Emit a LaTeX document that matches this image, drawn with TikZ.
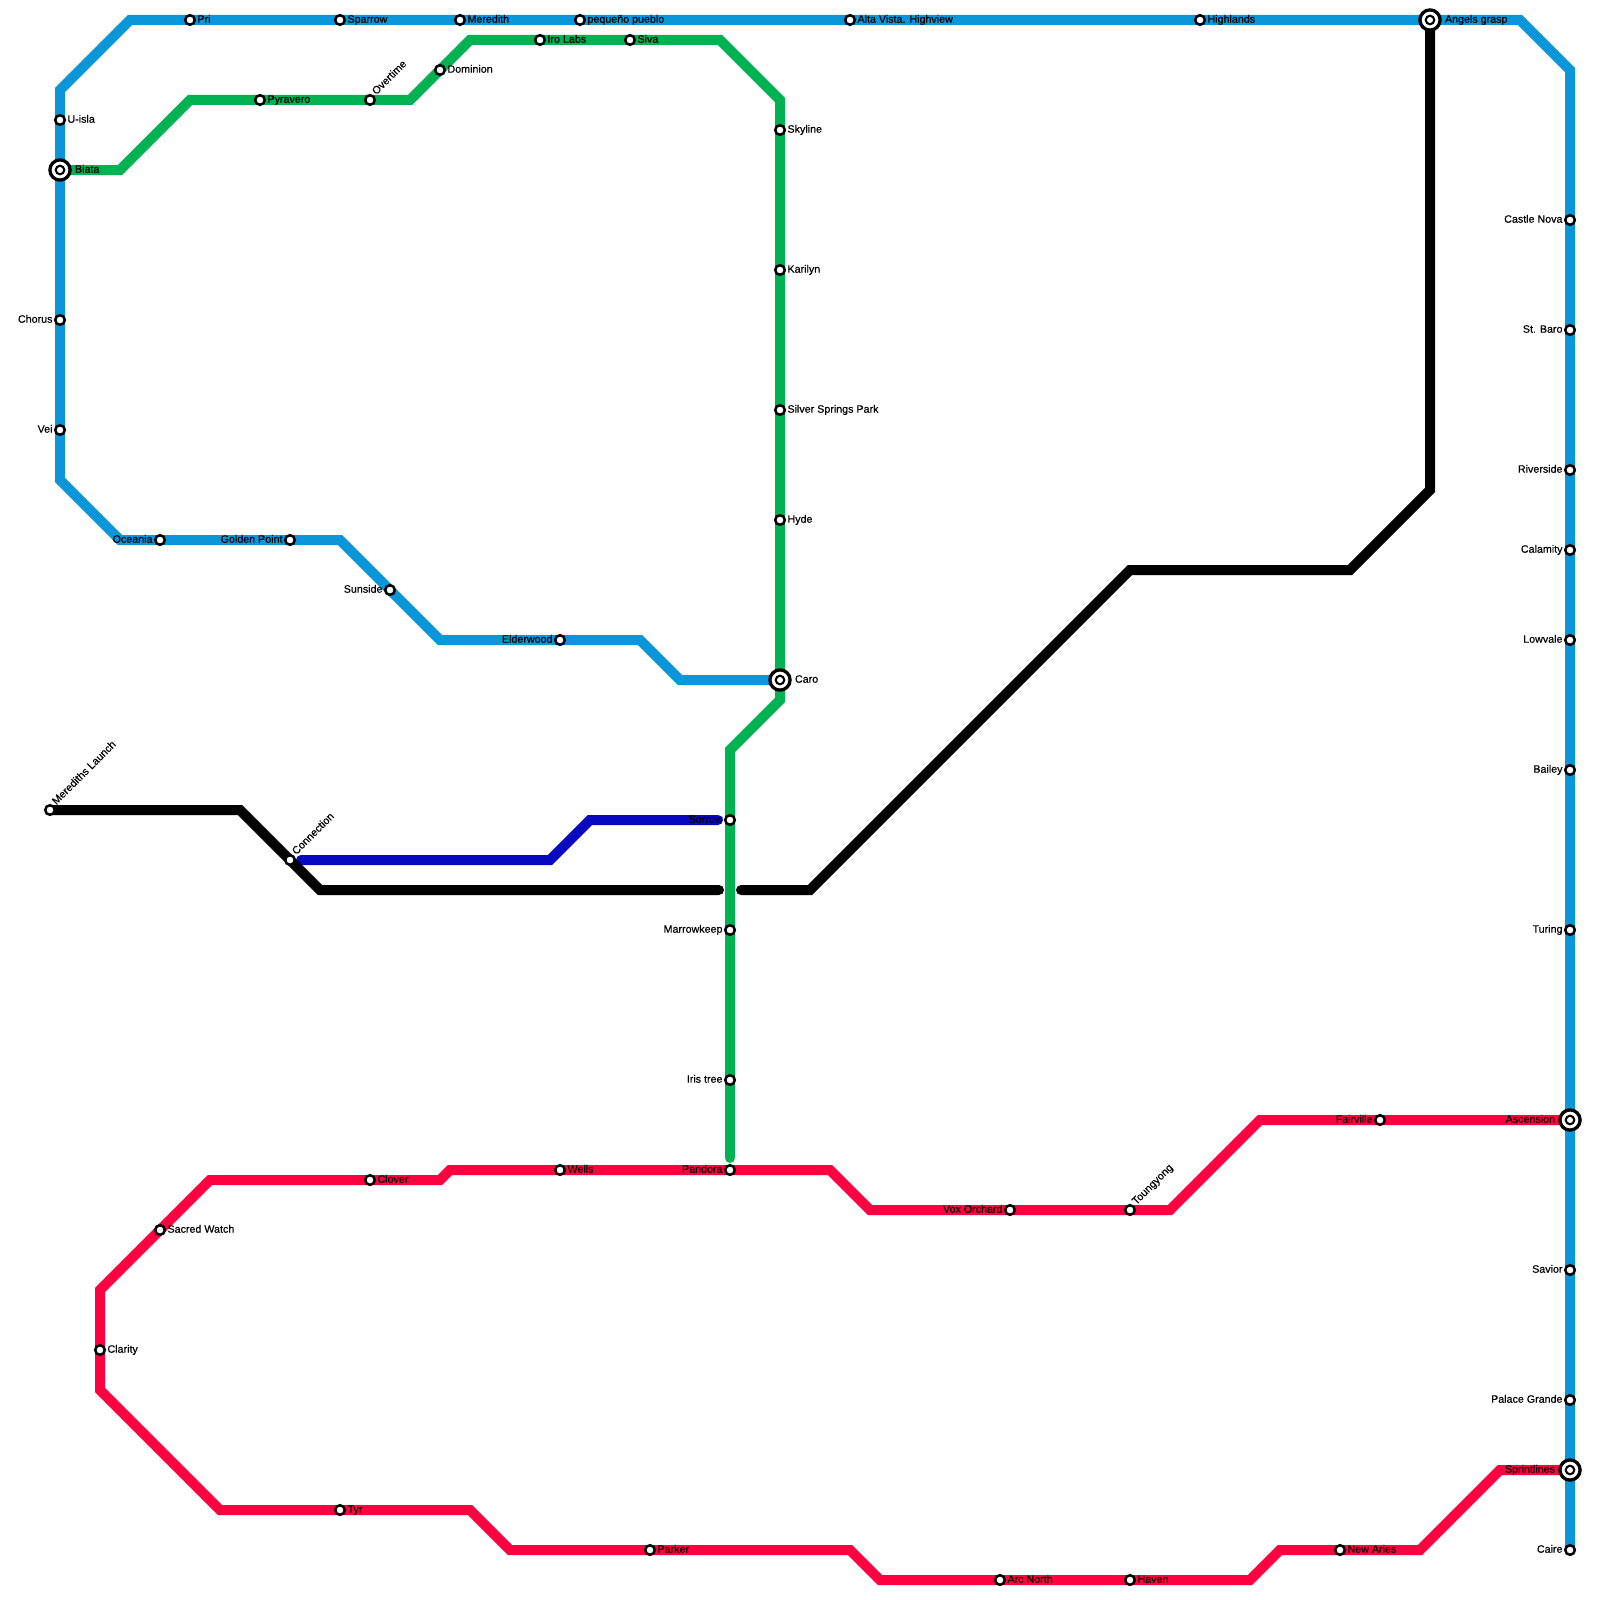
\documentclass[tikz,border=0pt]{standalone}
\usepackage{fontspec}
\setmainfont[FakeBold=0.4]{Liberation Sans}
\usepackage{xcolor}
\definecolor{ringblue}{HTML}{0A96D9}
\definecolor{leafgreen}{HTML}{00B251}
\definecolor{hotred}{HTML}{FF0040}
\definecolor{deepblue}{HTML}{0808C0}
\usetikzlibrary{backgrounds}
\tikzset{
  tag/.style  ={inner sep=0pt, outer sep=0pt, text=black, font=\fontsize{10.7}{12}\selectfont,
                text height=7.6pt, text depth=2.2pt},
  stn/.style  ={circle, draw=black, fill=white, line width=2.5pt, minimum size=9.6pt,
                inner sep=0pt, outer sep=0pt},
  hub/.style  ={stn, line width=3.3pt, minimum size=20.2pt,
                path picture={\fill[black] (path picture bounding box.center) circle (5.4pt);
                              \fill[white] (path picture bounding box.center) circle (3pt);}},
  tr/.style   ={label={[tag, label distance=2.7pt]right:#1}},
  tl/.style   ={label={[tag, label distance=2.7pt]left:#1}},
  td/.style   ={label={[tag, rotate=45, anchor=west, label distance=2.2pt, xshift=1.5pt]45:#1}},
  hr/.style   ={label={[tag, label distance=4.9pt]right:#1}},
  hl/.style   ={label={[tag, label distance=4.9pt]left:#1}},
  track/.style={line width=10pt, miter limit=10},
  stub/.style ={track, line cap=round},
}
\begin{document}
\begin{tikzpicture}[x=1pt, y=-1pt]
  \useasboundingbox (0,0) rectangle (1600,1600);
  % blue line
  \node[stn, tr=Pri] (pri) at (190,20) {};
  \node[stn, tr=Sparrow] (sparrow) at (340,20) {};
  \node[stn, tr=Meredith] (meredith) at (460,20) {};
  \node[stn, tr=pequeño pueblo] (pueblo) at (580,20) {};
  \node[stn, tr={Alta Vista. Highview}] (altavista) at (850,20) {};
  \node[stn, tr=Highlands] (highlands) at (1200,20) {};
  \node[hub, hr={Angels grasp}] (angels) at (1430,20) {};
  \node[stn, tr=U-isla] (uisla) at (60,120) {};
  \node[hub, hr=Biata] (biata) at (60,170) {};
  \node[stn, tl=Chorus] (chorus) at (60,320) {};
  \node[stn, tl=Vei] (vei) at (60,430) {};
  \node[stn, tl=Oceania] (oceania) at (160,540) {};
  \node[stn, tl={Golden Point}] (golden) at (290,540) {};
  \node[stn, tl=Sunside] (sunside) at (390,590) {};
  \node[stn, tl=Elderwood] (elderwood) at (560,640) {};
  \node[hub, hr=Caro] (caro) at (780,680) {};
  \node[stn, tl={Castle Nova}] (castle) at (1570,220) {};
  \node[stn, tl={St. Baro}] (baro) at (1570,330) {};
  \node[stn, tl=Riverside] (riverside) at (1570,470) {};
  \node[stn, tl=Calamity] (calamity) at (1570,550) {};
  \node[stn, tl=Lowvale] (lowvale) at (1570,640) {};
  \node[stn, tl=Bailey] (bailey) at (1570,770) {};
  \node[stn, tl=Turing] (turing) at (1570,930) {};
  \node[hub, hl=Ascension] (ascension) at (1570,1120) {};
  \node[stn, tl=Savior] (savior) at (1570,1270) {};
  \node[stn, tl={Palace Grande}] (palace) at (1570,1400) {};
  \node[hub, hl=Sprintlines] (sprint) at (1570,1470) {};
  \node[stn, tl=Caire] (caire) at (1570,1550) {};
  % green line
  \node[stn, tr=Pyravero] (pyravero) at (260,100) {};
  \node[stn, td=Overtime] (overtime) at (370,100) {};
  \node[stn, tr=Dominion] (dominion) at (440,70) {};
  \node[stn, tr={Iro Labs}] (irolabs) at (540,40) {};
  \node[stn, tr=Siva] (siva) at (630,40) {};
  \node[stn, tr=Skyline] (skyline) at (780,130) {};
  \node[stn, tr=Karilyn] (karilyn) at (780,270) {};
  \node[stn, tr={Silver Springs Park}] (silver) at (780,410) {};
  \node[stn, tr=Hyde] (hyde) at (780,520) {};
  \node[stn, tl=Sorrow] (sorrow) at (730,820) {};
  \node[stn, tl=Marrowkeep] (marrow) at (730,930) {};
  \node[stn, tl={Iris tree}] (iris) at (730,1080) {};
  \node[stn, tl=Pandora] (pandora) at (730,1170) {};
  % black and dark blue lines
  \node[stn, td={Merediths Launch}] (launch) at (50,810) {};
  \node[stn, td=Connection] (connection) at (290,860) {};
  % red line
  \node[stn, tl=Fairville] (fairville) at (1380,1120) {};
  \node[stn, td=Toungyong] (toungyong) at (1130,1210) {};
  \node[stn, tl={Vox Orchard}] (vox) at (1010,1210) {};
  \node[stn, tr=Wells] (wells) at (560,1170) {};
  \node[stn, tr=Clover] (clover) at (370,1180) {};
  \node[stn, tr={Sacred Watch}] (sacred) at (160,1230) {};
  \node[stn, tr=Clarity] (clarity) at (100,1350) {};
  \node[stn, tr=Tyr] (tyr) at (340,1510) {};
  \node[stn, tr=Parker] (parker) at (650,1550) {};
  \node[stn, tr={Arc North}] (arcnorth) at (1000,1580) {};
  \node[stn, tr=Haven] (haven) at (1130,1580) {};
  \node[stn, tr={New Aries}] (newaries) at (1340,1550) {};
  % bends
  \coordinate (b1) at (1570,70);
  \coordinate (b2) at (1520,20);
  \coordinate (b3) at (130,20);
  \coordinate (b4) at (60,90);
  \coordinate (b5) at (60,480);
  \coordinate (b6) at (120,540);
  \coordinate (b7) at (340,540);
  \coordinate (b8) at (440,640);
  \coordinate (b9) at (640,640);
  \coordinate (b10) at (680,680);
  \coordinate (g1) at (120,170);
  \coordinate (g2) at (190,100);
  \coordinate (g3) at (410,100);
  \coordinate (g4) at (470,40);
  \coordinate (g5) at (720,40);
  \coordinate (g6) at (780,100);
  \coordinate (g7) at (780,700);
  \coordinate (g8) at (730,750);
  \coordinate (g9) at (730,1158);
  \coordinate (k1) at (240,810);
  \coordinate (k2) at (320,890);
  \coordinate (k3) at (719,890);
  \coordinate (k4) at (741,890);
  \coordinate (k5) at (810,890);
  \coordinate (k6) at (1130,570);
  \coordinate (k7) at (1350,570);
  \coordinate (k8) at (1430,490);
  \coordinate (d1) at (301,860);
  \coordinate (d2) at (550,860);
  \coordinate (d3) at (590,820);
  \coordinate (d4) at (718,820);
  \coordinate (r1) at (1260,1120);
  \coordinate (r2) at (1170,1210);
  \coordinate (r3) at (870,1210);
  \coordinate (r4) at (830,1170);
  \coordinate (r5) at (450,1170);
  \coordinate (r6) at (440,1180);
  \coordinate (r7) at (210,1180);
  \coordinate (r8) at (100,1290);
  \coordinate (r9) at (100,1390);
  \coordinate (r10) at (220,1510);
  \coordinate (r11) at (470,1510);
  \coordinate (r12) at (510,1550);
  \coordinate (r13) at (850,1550);
  \coordinate (r14) at (880,1580);
  \coordinate (r15) at (1250,1580);
  \coordinate (r16) at (1280,1550);
  \coordinate (r17) at (1420,1550);
  \coordinate (r18) at (1500,1470);
  \begin{scope}[on background layer]
    \draw[track, ringblue] (caire.center) -- (sprint.center) -- (palace.center) -- (savior.center)
      -- (ascension.center) -- (turing.center) -- (bailey.center) -- (lowvale.center)
      -- (calamity.center) -- (riverside.center) -- (baro.center) -- (castle.center) -- (b1) -- (b2)
      -- (angels.center) -- (highlands.center) -- (altavista.center) -- (pueblo.center)
      -- (meredith.center) -- (sparrow.center) -- (pri.center) -- (b3) -- (b4) -- (uisla.center)
      -- (biata.center) -- (chorus.center) -- (vei.center) -- (b5) -- (b6) -- (oceania.center)
      -- (golden.center) -- (b7) -- (sunside.center) -- (b8) -- (elderwood.center) -- (b9) -- (b10)
      -- (caro.center);
    \draw[track, leafgreen] (biata.center) -- (g1) -- (g2) -- (pyravero.center) -- (overtime.center)
      -- (g3) -- (dominion.center) -- (g4) -- (irolabs.center) -- (siva.center) -- (g5) -- (g6)
      -- (skyline.center) -- (karilyn.center) -- (silver.center) -- (hyde.center) -- (caro.center)
      -- (g7) -- (g8) -- (sorrow.center) -- (marrow.center) -- (iris.center);
    \draw[stub, leafgreen] (iris.center) -- (g9);
    \draw[stub, deepblue] (d1) -- (d2) -- (d3) -- (d4);
    \draw[track, black, line cap=round] (launch.center) -- (k1) -- (connection.center) -- (k2) -- (k3);
    \draw[stub, black] (k4) -- (k5) -- (k6) -- (k7) -- (k8) -- (angels.center);
    \draw[track, hotred] (ascension.center) -- (fairville.center) -- (r1) -- (r2) -- (toungyong.center)
      -- (vox.center) -- (r3) -- (r4) -- (pandora.center) -- (wells.center) -- (r5) -- (r6)
      -- (clover.center) -- (r7) -- (sacred.center) -- (r8) -- (clarity.center) -- (r9) -- (r10)
      -- (tyr.center) -- (r11) -- (r12) -- (parker.center) -- (r13) -- (r14) -- (arcnorth.center)
      -- (haven.center) -- (r15) -- (r16) -- (newaries.center) -- (r17) -- (r18) -- (sprint.center);
  \end{scope}
\end{tikzpicture}
\end{document}
